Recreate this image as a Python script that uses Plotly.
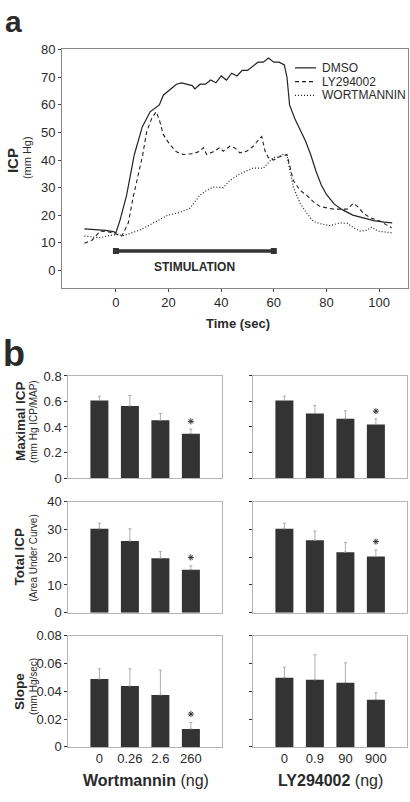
import plotly.graph_objects as go

# ---------------- Panel a data ----------------
t_dmso = [-12, -8, -4, -1, 0, 1.5, 4, 7, 10, 13, 15, 16.5, 18, 20, 23, 25, 27, 29, 30, 32, 34, 36, 38, 40,
          42, 44, 46, 48, 50, 52, 54, 56, 58, 60, 62, 64, 65, 66, 68, 70, 72, 74, 76, 78, 80, 83, 86, 90,
          94, 98, 102, 105]
icp_dmso = [15, 14.8, 14.5, 14, 13.6, 18, 27, 42, 52, 57.5, 59, 60, 63.5, 65, 67.5, 68, 67.5, 67, 65.8,
            67.5, 67.5, 69, 68, 70.5, 69, 71.5, 70.5, 72.5, 72.5, 74, 75.5, 75.5, 77, 75.5, 75.5, 74.5,
            70, 60, 55, 51, 47, 42, 36, 31, 27.5, 24, 22, 20, 19, 18, 17.5, 17.2]

t_ly = [-12, -9, -6, -3, 0, 2.2, 4.7, 6.6, 9.1, 10, 11.7, 13.6, 15.3, 16.7, 18, 20.5, 23, 25.6, 29.4,
        31.9, 33.2, 34.5, 37, 39.5, 40.8, 43.3, 45.2, 47.1, 49.7, 52.2, 54.8, 55.4, 56.7, 57.9, 59.8,
        62.4, 65, 66.2, 67.4, 70, 72.5, 75, 77.6, 82.7, 87.9, 90.2, 92, 94, 96.6, 100.4, 104.8]
icp_ly = [9.8, 11, 14.2, 14, 13.2, 12.4, 17.2, 26.7, 37.3, 41, 50.3, 55.1, 57.5, 53.9, 49.2, 45.6, 43,
          42, 42.3, 43.2, 44.5, 42, 43, 44.5, 43.2, 45, 44.4, 42.6, 43.2, 45, 48, 48.5, 43.2, 40.9, 40,
          41.3, 42, 37.3, 32.6, 29, 27.2, 24.9, 23.1, 22.2, 22.2, 24.3, 23, 20.7, 19.1, 17.8, 15.4]

t_wort = [-12, -9, -6, -3, 0, 3, 6, 9.1, 12, 14.2, 17, 19.3, 22, 24.3, 28.1, 30, 31.9, 34.5, 37, 40.8,
          43.3, 47.1, 49.7, 52.2, 56, 58.6, 59.8, 61.1, 63.6, 65, 66.2, 67.4, 70, 72.5, 75, 77.6, 81.4,
          85.2, 87.9, 90.2, 92.8, 95.3, 97.2, 99.7, 104.8]
icp_wort = [12.4, 12.2, 11.8, 12.5, 13, 12.6, 13.5, 14.6, 16, 17.2, 18.5, 19.8, 20.5, 21, 22.5, 25,
            27.2, 29, 30.2, 30, 32.6, 35, 36, 37.1, 37, 39.7, 41, 40.9, 42, 41.5, 36, 30.2, 24.3, 20.7,
            17.8, 16.9, 16.2, 17.2, 17, 15.5, 14.2, 14.5, 15.6, 14.2, 13.6]

series_names = ["DMSO", "LY294002", "WORTMANNIN"]
stim_t = [0, 60]
stim_level = 7
time_ticks = [0, 20, 40, 60, 80, 100]

# ---------------- Panel b data ----------------
wort_doses = ["0", "0.26", "2.6", "260"]
ly_doses = ["0", "0.9", "90", "900"]

max_wort = [0.607, 0.565, 0.452, 0.348]
max_wort_err = [0.035, 0.082, 0.054, 0.036]
max_ly = [0.607, 0.506, 0.464, 0.419]
max_ly_err = [0.035, 0.063, 0.063, 0.045]

tot_wort = [30.2, 25.8, 19.6, 15.5]
tot_wort_err = [2.0, 4.4, 2.4, 1.4]
tot_ly = [30.2, 26.1, 21.8, 20.2]
tot_ly_err = [2.0, 3.3, 3.5, 2.4]

slope_wort = [0.0488, 0.0438, 0.0374, 0.0129]
slope_wort_err = [0.0074, 0.0124, 0.0178, 0.0047]
slope_ly = [0.0498, 0.0483, 0.0462, 0.034]
slope_ly_err = [0.0076, 0.018, 0.0143, 0.005]

sig_max_wort = [0, 0, 0, 1]
sig_max_ly = [0, 0, 0, 1]
sig_tot_wort = [0, 0, 0, 1]
sig_tot_ly = [0, 0, 0, 1]
sig_slope_wort = [0, 0, 0, 1]
sig_slope_ly = [0, 0, 0, 0]

FONT = "Liberation Sans, Arial, sans-serif"
TXT = "#2a2a2a"
W, H = 410, 802


def px_x(p):
    return p / W


def px_y(p):
    return 1 - p / H


fig = go.Figure()

line_styles = [dict(color="#222", width=1.2),
               dict(color="#222", width=1.1, dash="4px,3px"),
               dict(color="#222", width=1.2, dash="1px,2px")]

for name, tx, ty, ls in zip(series_names, [t_dmso, t_ly, t_wort], [icp_dmso, icp_ly, icp_wort], line_styles):
    fig.add_trace(go.Scatter(x=tx, y=ty, mode="lines", name=name, line=ls,
                             showlegend=False, xaxis="x", yaxis="y"))

fig.add_trace(go.Scatter(x=stim_t, y=[stim_level] * len(stim_t), mode="lines+markers", showlegend=False,
                         line=dict(color="#333", width=3.5),
                         marker=dict(symbol="square", size=6, color="#333"), xaxis="x", yaxis="y"))

fig.add_annotation(x=sum(stim_t) / 2, y=stim_level, xref="x", yref="y", yshift=-16,
                   text="<b>STIMULATION</b>", showarrow=False,
                   font=dict(family=FONT, size=12, color=TXT))

# manual legend (compact spacing as in the reference)
for i, (name, ls) in enumerate(zip(series_names, line_styles)):
    yy = px_y(62 + 14 * i)
    fig.add_shape(type="line", xref="paper", yref="paper", x0=px_x(295), x1=px_x(316), y0=yy, y1=yy,
                  line=ls)
    fig.add_annotation(x=px_x(320), y=yy, xref="paper", yref="paper", text=name, showarrow=False,
                       xanchor="left", yanchor="middle", font=dict(family=FONT, size=12, color=TXT))

layout_axes = {}
layout_axes["xaxis"] = dict(domain=[px_x(62), px_x(408)], anchor="y", range=[-20.5, 111],
                            tickvals=time_ticks, ticks="outside", ticklen=3, tickcolor="#444",
                            showline=True, mirror=True, linecolor="#888", linewidth=1,
                            showgrid=False, zeroline=False,
                            tickfont=dict(family=FONT, size=13, color=TXT))
layout_axes["yaxis"] = dict(domain=[px_y(286), px_y(43)], anchor="x", range=[-6.3, 80.2],
                            dtick=10, tick0=0, ticks="outside", ticklen=3, tickcolor="#444",
                            showline=True, mirror=True, linecolor="#888", linewidth=1,
                            showgrid=False, zeroline=False,
                            tickfont=dict(family=FONT, size=13, color=TXT))

# panel b
rows = [
    (max_wort, max_wort_err, sig_max_wort, max_ly, max_ly_err, sig_max_ly, 0.8, 0.2, 376, 480),
    (tot_wort, tot_wort_err, sig_tot_wort, tot_ly, tot_ly_err, sig_tot_ly, 40, 10, 504, 617.3),
    (slope_wort, slope_wort_err, sig_slope_wort, slope_ly, slope_ly_err, sig_slope_ly, 0.08, 0.02, 640.7, 754),
]
cols = [(68.3, 222.3), (253.3, 407.3)]

ax = 2
for r, (vw, ew, sw, vl, el, sl, ymax, dt, top, bot) in enumerate(rows):
    for c, (vals, errs, sig, doses) in enumerate([(vw, ew, sw, wort_doses), (vl, el, sl, ly_doses)]):
        xa = f"x{ax}"
        ya = f"y{ax}"
        fig.add_trace(go.Bar(x=doses, y=vals, width=0.59, marker=dict(color="#333333", line=dict(width=0)),
                             error_y=dict(type="data", array=errs, arrayminus=[0] * len(errs),
                                          symmetric=False, color="#999", thickness=0.8, width=1.5),
                             showlegend=False, xaxis=xa, yaxis=ya))
        sx = [d for d, s in zip(doses, sig) if s]
        sy = [v + e + 0.075 * ymax for v, e, s in zip(vals, errs, sig) if s]
        if sx:
            fig.add_trace(go.Scatter(x=sx, y=sy, mode="markers", showlegend=False,
                                     marker=dict(symbol="asterisk-open", size=5, color="#333",
                                                 line=dict(color="#333", width=1)),
                                     xaxis=xa, yaxis=ya))
        l, rr = cols[c]
        layout_axes[f"xaxis{ax}"] = dict(domain=[px_x(l), px_x(rr)], anchor=ya, type="category",
                                         range=[-1.02, 4.03], showline=True, mirror=True,
                                         linecolor="#b5b5b5", linewidth=1, ticks="",
                                         showticklabels=(r == 2), showgrid=False, zeroline=False,
                                         tickfont=dict(family=FONT, size=13, color=TXT))
        layout_axes[f"yaxis{ax}"] = dict(domain=[px_y(bot), px_y(top)], anchor=xa, range=[0, ymax],
                                         dtick=dt, tick0=0, ticks="outside", ticklen=3, tickcolor="#333",
                                         tickwidth=1.3, showline=True, mirror=True, linecolor="#b5b5b5",
                                         linewidth=1, showticklabels=(c == 0), showgrid=False,
                                         zeroline=False, tickfont=dict(family=FONT, size=13, color=TXT))
        ax += 1

fig.update_layout(**layout_axes)

# titles / labels
ann = [
    dict(x=px_x(13), y=px_y(15), text="<b>a</b>", size=30),
    dict(x=px_x(14), y=px_y(353), text="<b>b</b>", size=36),
    dict(x=px_x(238), y=px_y(323), text="<b>Time (sec)</b>", size=13),
    dict(x=px_x(12), y=px_y(157), text="<b>ICP</b>", size=15, angle=-90),
    dict(x=px_x(27), y=px_y(154), text="(mm Hg)", size=11, angle=-90),
    dict(x=px_x(20), y=px_y(422), text="<b>Maximal ICP</b>", size=13.5, angle=-90),
    dict(x=px_x(33), y=px_y(423), text="(mm Hg ICP/MAP)", size=10, angle=-90),
    dict(x=px_x(20), y=px_y(560), text="<b>Total ICP</b>", size=13.5, angle=-90),
    dict(x=px_x(33), y=px_y(562), text="(Area Under Curve)", size=10, angle=-90),
    dict(x=px_x(20), y=px_y(698), text="<b>Slope</b>", size=13.5, angle=-90),
    dict(x=px_x(33), y=px_y(693), text="(mm Hg/sec)", size=10, angle=-90),
    dict(x=px_x(146), y=px_y(788), text="<b>Wortmannin</b> (ng)", size=16),
    dict(x=px_x(330), y=px_y(788), text="<b>LY294002</b> (ng)", size=16),
]
for a in ann:
    fig.add_annotation(x=a["x"], y=a["y"], xref="paper", yref="paper", text=a["text"], showarrow=False,
                       textangle=a.get("angle", 0), xanchor="center", yanchor="middle",
                       font=dict(family=FONT, size=a["size"], color=TXT))

fig.update_layout(
    width=W, height=H, margin=dict(l=0, r=0, t=0, b=0),
    paper_bgcolor="white", plot_bgcolor="white",
    showlegend=False,
    bargap=0.4,
)

fig.write_html("out.html", config={"displayModeBar": False},
               post_script="document.body.style.margin='0px';")
